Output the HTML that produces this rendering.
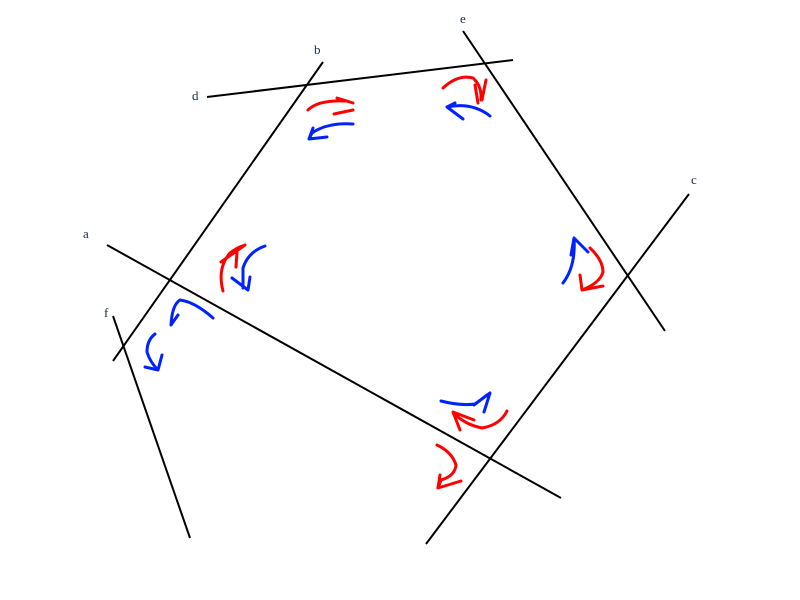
<!DOCTYPE html>
<html><head><meta charset="utf-8"><style>
html,body{margin:0;padding:0;background:#fff}
svg{display:block}
text{font-family:"Liberation Serif",serif;font-size:13px;fill:#1a2a4a}
</style></head><body>
<svg width="800" height="600" viewBox="0 0 800 600">
<g stroke="#000" stroke-width="2" fill="none">
<line x1="113" y1="361" x2="323" y2="62"/>
<line x1="207" y1="97" x2="513" y2="60"/>
<line x1="463" y1="31" x2="665" y2="331"/>
<line x1="689" y1="194" x2="426" y2="544"/>
<line x1="107" y1="245" x2="561" y2="498"/>
<line x1="113" y1="316" x2="190" y2="538"/>
</g>
<g>
<text x="314" y="54">b</text>
<text x="192" y="100">d</text>
<text x="460" y="23">e</text>
<text x="691" y="184">c</text>
<text x="83" y="238">a</text>
<text x="104" y="317">f</text>
</g>
<g fill="none" stroke-width="3" stroke-linecap="round" stroke-linejoin="round">
<g stroke="#f00">
<path d="M308,110 Q318,100 345,101 M337,98 L353,103 M334,114 L353,110"/>
<path d="M443,88 Q458,74 473,78 Q482,86 481,100 M475,85 L478,103 M486,80 L482,100"/>
<path d="M223,291 Q217,268 230,253 Q236,248 245,245 L221,262 M237,252 L236,267"/>
<path d="M590,248 Q603,260 603,272 Q600,283 582,290 L580,275 M582,290 L603,286"/>
<path d="M507,411 Q500,425 482,428 Q463,424 453,412 L460,430 M453,412 L474,420"/>
<path d="M437,445 Q452,452 456,465 Q455,476 441,480 L438,488 L461,481 M438,488 L440,475"/>
</g>
<g stroke="#0022ff">
<path d="M353,124 Q328,122 312,133 L309,139 L327,137 M309,139 L313,128"/>
<path d="M490,116 Q472,102 447,107 L463,119 M447,107 L455,103"/>
<path d="M265,246 Q248,252 243,268 L243,288 M232,278 L248,290 L250,277"/>
<path d="M213,318 Q195,302 180,300 Q172,305 171,325 L178,315"/>
<path d="M155,334 Q147,340 147,352 Q150,362 158,370 L145,367 M158,370 L162,355"/>
<path d="M563,283 Q576,266 574,238 L571,255 M574,238 L588,252"/>
<path d="M441,401 Q460,406 475,404 L490,393 L484,412 M474,405 L487,395"/>
</g>
</g>
</svg>
</body></html>
